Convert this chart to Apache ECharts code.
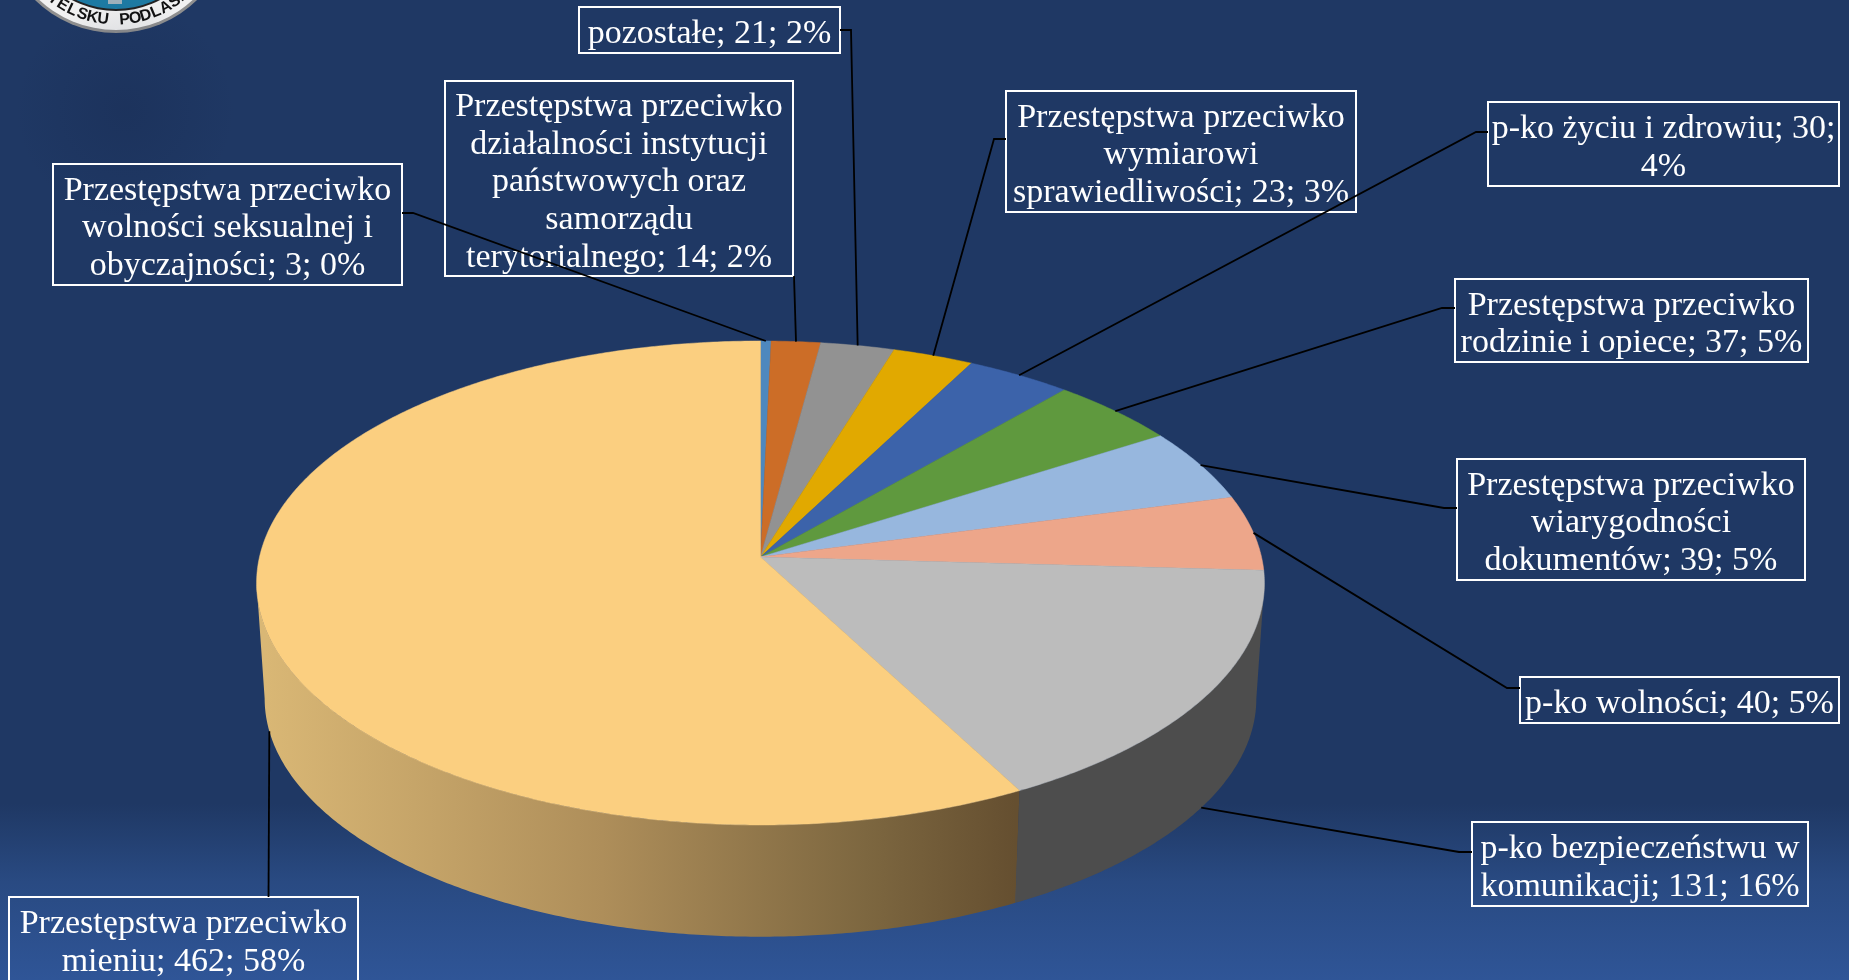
<!DOCTYPE html>
<html lang="pl">
<head>
<meta charset="utf-8">
<title>Przestępstwa</title>
<style>html,body{margin:0;padding:0;background:#1f3864}#main{width:1849px;height:980px}</style>
<script src="https://cdn.jsdelivr.net/npm/echarts@6/dist/echarts.min.js"></script>
</head>
<body>
<div id="main"></div>
<script>
// ---- data ----
const sliceValues = [3, 14, 21, 23, 30, 37, 39, 40, 131, 462];
const sliceLabels = [
  'Przestępstwa przeciwko\nwolności seksualnej i\nobyczajności; 3; 0%',
  'Przestępstwa przeciwko\ndziałalności instytucji\npaństwowych oraz\nsamorządu\nterytorialnego; 14; 2%',
  'pozostałe; 21; 2%',
  'Przestępstwa przeciwko\nwymiarowi\nsprawiedliwości; 23; 3%',
  'p-ko życiu i zdrowiu; 30;\n4%',
  'Przestępstwa przeciwko\nrodzinie i opiece; 37; 5%',
  'Przestępstwa przeciwko\nwiarygodności\ndokumentów; 39; 5%',
  'p-ko wolności; 40; 5%',
  'p-ko bezpieczeństwu w\nkomunikacji; 131; 16%',
  'Przestępstwa przeciwko\nmieniu; 462; 58%'
];
// ---- styles ----
const topColors = ['#4E88BE','#CC6D27','#929292','#E1A900','#3C63AA','#5F993E','#97B7DE','#EDA68A','#BCBCBC','#FBCF80'];
const sideColors = ['#2f5272','#7a4117','#575757','#876500','#243b66','#395c25','#5a6e85','#8e6352','#4D4D4D',null];
// label boxes: left, top, right, bottom
const boxLayout = [
  [53,164,402,285],[445,81,793,276],[579,7,840,53],[1006,91,1356,212],[1488,102,1839,186],
  [1455,279,1808,362],[1457,459,1805,580],[1520,677,1839,723],[1472,822,1808,906],[9,897,358,981]
];
// leader: box attachment point, elbow point
const leaderLayout = [
  [[402,213],[413,213]],[[794,276],[794,276]],[[840,30],[851,30]],[[1006,139],[994,139]],[[1488,132],[1476,132]],
  [[1455,308],[1442,308]],[[1457,508],[1444,508]],[[1520,688],[1507,688]],[[1472,852],[1459,852]],[[268.5,897],[268.5,897]]
];
// ---- perspective pie geometry ----
const CX = 760.5, TOP_Y = 557, BOTTOM_Y = 673, BOTTOM_SCALE = 0.984;
const R_X = 501, R_Y = 239.2, PERSP = -0.1074;
const TANGENT = Math.asin(-PERSP) * 180 / Math.PI;
const VIS_FROM = 90 + TANGENT, VIS_TO = 270 - TANGENT;

const total = sliceValues.reduce((a, b) => a + b, 0);
const spans = [];
sliceValues.reduce((acc, v) => { spans.push([acc / total * 360, (acc + v) / total * 360]); return acc + v; }, 0);

function project(deg, cy, s) {
  const t = deg * Math.PI / 180, sx = Math.sin(t), yy = -Math.cos(t), w = 1 + PERSP * yy;
  return [CX + s * R_X * sx / w, cy + s * R_Y * yy / w];
}
function arc(a, b, cy, s) {
  const n = Math.max(2, Math.ceil(Math.abs(b - a) / 0.5)), pts = [];
  for (let i = 0; i <= n; i++) pts.push(project(a + (b - a) * i / n, cy, s));
  return pts;
}
const sideGradient = new echarts.graphic.LinearGradient(265, 0, 1015, 0, [
  {offset:0,color:'#D9B775'},{offset:0.45,color:'#AE8E5A'},{offset:0.8,color:'#7D6740'},{offset:1,color:'#654F30'}
], true);

function renderSide(params) {
  const i = params.dataIndex, a = Math.max(spans[i][0], VIS_FROM), b = Math.min(spans[i][1], VIS_TO);
  if (a >= b) return {type:'group', children:[]};
  const pts = arc(a, b, TOP_Y, 1).concat(arc(b, a, BOTTOM_Y, BOTTOM_SCALE));
  return {type:'polygon', shape:{points:pts}, style:{fill: sideColors[i] || sideGradient}};
}
function renderTop(params) {
  const i = params.dataIndex;
  const pts = [[CX, TOP_Y]].concat(arc(spans[i][0], spans[i][1], TOP_Y, 1));
  return {type:'polygon', shape:{points:pts}, style:{fill: topColors[i], stroke: topColors[i], lineWidth:0.5}};
}
function renderLabel(params) {
  const i = params.dataIndex, box = boxLayout[i], lead = leaderLayout[i];
  const mid = (spans[i][0] + spans[i][1]) / 2;
  // slices facing the viewer are labelled from the lower rim of the side wall
  const onSide = mid > VIS_FROM && mid < VIS_TO;
  const anchor = onSide ? project(mid, BOTTOM_Y, BOTTOM_SCALE) : project(mid, TOP_Y, 1);
  return {type:'group', children:[
    {type:'rect', shape:{x:box[0],y:box[1],width:box[2]-box[0],height:box[3]-box[1]},
     style:{fill:'none',stroke:'#ffffff',lineWidth:2}},
    {type:'text', style:{x:(box[0]+box[2])/2,y:(box[1]+box[3])/2+4,text:sliceLabels[i],
      font:'34px "Liberation Serif", serif',lineHeight:37.6,fill:'#ffffff',
      textAlign:'center',textVerticalAlign:'middle'}},
    {type:'polyline', shape:{points:[lead[0],lead[1],anchor]}, style:{fill:'none',stroke:'#000000',lineWidth:1.8}, z2:5}
  ]};
}

// ---- logo, cropped by the top edge ----
const LOGO = {x:116,y:-83,r:116};
const logoText = 'BIELSKU PODLASKI';
const logoGraphics = [
  {type:'circle',shape:{cx:LOGO.x,cy:LOGO.y,r:LOGO.r},style:{fill:'#8f8f8f'}},
  {type:'circle',shape:{cx:LOGO.x,cy:LOGO.y,r:LOGO.r-3},style:{fill:'#f1f1f1'}},
  {type:'circle',shape:{cx:LOGO.x,cy:LOGO.y,r:LOGO.r-22},style:{fill:'#222222'}},
  {type:'circle',shape:{cx:LOGO.x,cy:LOGO.y,r:LOGO.r-24},style:{fill:'#1d7aa3'}},
  {type:'rect',shape:{x:108,y:-3,width:14,height:7},style:{fill:'#9fb0bb'}}
];
[...logoText].forEach((ch, i) => {
  const a = (i - 7.2) * 6 * Math.PI / 180, r = LOGO.r - 13;
  logoGraphics.push({type:'text',x:LOGO.x + r * Math.sin(a),y:LOGO.y + r * Math.cos(a),rotation:a,
    style:{text:ch,font:'bold 16px "Liberation Sans Narrow","Liberation Sans",sans-serif',fill:'#111111',
      textAlign:'center',textVerticalAlign:'middle'}});
});
logoGraphics.push({type:'circle',shape:{cx:125,cy:110,r:110},
  style:{fill:new echarts.graphic.RadialGradient(0.5,0.5,0.5,[
    {offset:0,color:'rgba(20,35,70,0.25)'},{offset:1,color:'rgba(20,35,70,0)'}])}});

const idx = sliceValues.map((v, i) => [i, v]);
const chart = echarts.init(document.getElementById('main'), null, {renderer:'canvas'});
chart.setOption({
  animation:false,
  backgroundColor:new echarts.graphic.LinearGradient(0,0,0,1,[
    {offset:0,color:'#1F3864'},{offset:0.82,color:'#1F3864'},{offset:0.9,color:'#294A82'},{offset:1,color:'#2F5597'}]),
  graphic:{elements:logoGraphics},
  series:[
    {type:'custom',name:'ściana',coordinateSystem:'none',renderItem:renderSide,data:idx,silent:true,z:1},
    {type:'custom',name:'udział',coordinateSystem:'none',renderItem:renderTop,data:idx,silent:true,z:2},
    {type:'custom',name:'etykiety',coordinateSystem:'none',renderItem:renderLabel,data:idx,silent:true,z:3}
  ]
});
</script>
</body>
</html>
